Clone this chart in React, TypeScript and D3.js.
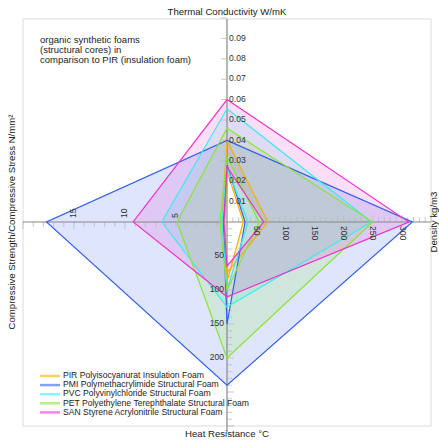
import React from "react";
import * as d3 from "d3";

// Axes: top, right, bottom, left
const axisTitles = [
  "Thermal Conductivity W/mK",
  "Density kg/m3",
  "Heat Resistance °C",
  "Compressive Strength/Compressive Stress N/mm²",
];
const axisMax = [0.1, 350, 300, 20];
const tcTicks = [0.01, 0.02, 0.03, 0.04, 0.05, 0.06, 0.07, 0.08, 0.09];
const denTicks = [50, 100, 150, 200, 250, 300];
const heatTicks = [50, 100, 150, 200];
const csTicks = [5, 10, 15];

const seriesNames = [
  "PIR Polyisocyanurat Insulation Foam",
  "PMI Polymethacrylimide Structural Foam",
  "PVC Polyvinylchloride Structural Foam",
  "PET Polyethylene Terephthalate Structural Foam",
  "SAN Styrene Acrylonitrile Structural Foam",
];
const seriesColors = ["#f5b000", "#3360ee", "#33eeee", "#88e633", "#ee33cc"];
// [conductivity, density, heat resistance, compressive strength]
const upperValues = [
  [0.04, 70, 75, 0.5],
  [0.04, 318, 240, 17.7],
  [0.0555, 248, 125, 6.4],
  [0.046, 250, 200, 4.9],
  [0.06, 312, 110, 9.2],
];
const lowerValues = [
  [0.025, 28, 88, 0.2],
  [0.028, 31, 150, 0.35],
  [0.0265, 36, 100, 0.5],
  [0.032, 55, 100, 0.7],
  [0.027, 63, 65, 0.3],
];
const noteLines = [
  "organic synthetic foams",
  "(structural cores) in",
  "comparison to PIR (insulation foam)",
];

const W = 439;
const H = 442;
const cx = 227;
const cy = 222;
const R = 204;
const FONT = "'Liberation Sans', Arial, sans-serif";

export default function App() {
  const scales = axisMax.map((m) => d3.scaleLinear().domain([0, m]).range([0, R]));
  const toPts = (v: number[]): [number, number][] => [
    [cx, cy - scales[0](v[0])],
    [cx + scales[1](v[1]), cy],
    [cx, cy + scales[2](v[2])],
    [cx - scales[3](v[3]), cy],
  ];
  const line = d3.line().curve(d3.curveLinearClosed);

  const minor = (m: number, step: number) => d3.range(step, m + step / 2, step);

  return (
    <svg width={W} height={H} style={{ position: "absolute", left: 0, top: 0, fontFamily: FONT }}>
      <rect x={0} y={0} width={W} height={H} fill="#fff" />
      <rect x={cx - R} y={cy - R + 1} width={2 * R} height={2 * R - 1} fill="none" stroke="#dcdcdc" strokeWidth={1} />

      {/* series fills */}
      {seriesNames.map((n, i) => (
        <path
          key={"f" + i}
          d={(line(toPts(upperValues[i])) || "") + (line(toPts(lowerValues[i])) || "")}
          fill={seriesColors[i]}
          fillOpacity={0.16}
          fillRule="evenodd"
          stroke="none"
        />
      ))}

      {/* minor ticks */}
      {minor(0.1, 0.01).map((t, i) => (
        <line key={"tt" + i} x1={cx - 6} x2={cx} y1={cy - scales[0](t)} y2={cy - scales[0](t)} stroke="#bbb" strokeWidth={0.8} />
      ))}
      {minor(350, 10).map((t, i) => (
        <line key={"rt" + i} x1={cx + scales[1](t)} x2={cx + scales[1](t)} y1={cy - (t % 50 === 0 ? 7 : 5)} y2={cy} stroke="#bbb" strokeWidth={0.8} />
      ))}
      {minor(300, 10).map((t, i) => (
        <line key={"bt" + i} x1={cx} x2={cx + (t % 50 === 0 ? 7 : 5)} y1={cy + scales[2](t)} y2={cy + scales[2](t)} stroke="#bbb" strokeWidth={0.8} />
      ))}
      {minor(20, 1).map((t, i) => (
        <line key={"lt" + i} x1={cx - scales[3](t)} x2={cx - scales[3](t)} y1={cy} y2={cy + (t % 5 === 0 ? 7 : 5)} stroke="#bbb" strokeWidth={0.8} />
      ))}

      {/* axis lines */}
      <line x1={cx - R} x2={cx + R} y1={cy} y2={cy} stroke="#888" strokeWidth={1.2} />
      <line x1={cx} x2={cx} y1={cy - R + 1} y2={cy + R + 6} stroke="#888" strokeWidth={1.2} />

      {/* series strokes */}
      {seriesNames.map((n, i) => (
        <g key={"s" + i} fill="none" stroke={seriesColors[i]} strokeWidth={1.2} strokeLinejoin="miter">
          <path d={line(toPts(upperValues[i])) || ""} />
          <path d={line(toPts(lowerValues[i])) || ""} />
        </g>
      ))}

      {/* tick labels */}
      <g fontSize={8.6} fill="#333">
        {tcTicks.map((t, i) => (
          <text key={"tl" + i} x={cx + 2} y={cy - scales[0](t)} dominantBaseline="middle">
            {t.toFixed(2)}
          </text>
        ))}
        {denTicks.map((t, i) => (
          <text
            key={"rl" + i}
            transform={`translate(${cx + scales[1](t)},${cy + 4}) rotate(90)`}
            dominantBaseline="middle"
            textAnchor="start"
          >
            {t}
          </text>
        ))}
        {heatTicks.map((t, i) => (
          <text key={"bl" + i} x={cx - 3} y={cy + scales[2](t)} dominantBaseline="middle" textAnchor="end">
            {t}
          </text>
        ))}
        {csTicks.map((t, i) => (
          <text
            key={"ll" + i}
            transform={`translate(${cx - scales[3](t)},${cy - 4}) rotate(-90)`}
            dominantBaseline="middle"
            textAnchor="start"
          >
            {t}
          </text>
        ))}
      </g>

      {/* axis titles */}
      <g fontSize={9.6} fill="#222">
        <text x={cx} y={12} textAnchor="middle" dominantBaseline="middle">{axisTitles[0]}</text>
        <text transform={`translate(434,${cy}) rotate(-90)`} textAnchor="middle" dominantBaseline="middle">{axisTitles[1]}</text>
        <text x={cx} y={434} textAnchor="middle" dominantBaseline="middle">{axisTitles[2]}</text>
        <text transform={`translate(12,${cy}) rotate(-90)`} textAnchor="middle" dominantBaseline="middle">{axisTitles[3]}</text>
      </g>

      {/* note */}
      <g fontSize={9.5} fill="#222">
        {noteLines.map((s, i) => (
          <text key={"n" + i} x={40} y={40 + i * 10.2} dominantBaseline="middle">{s}</text>
        ))}
      </g>

      {/* legend */}
      <g fontSize={8.6} fill="#222">
        {seriesNames.map((s, i) => (
          <g key={"lg" + i} transform={`translate(40,${376 + i * 9.1})`}>
            <line x1={0} x2={20} y1={0} y2={0} stroke={seriesColors[i]} strokeOpacity={0.6} strokeWidth={2.5} />
            <text x={23} y={0} dominantBaseline="middle">{s}</text>
          </g>
        ))}
      </g>
    </svg>
  );
}
